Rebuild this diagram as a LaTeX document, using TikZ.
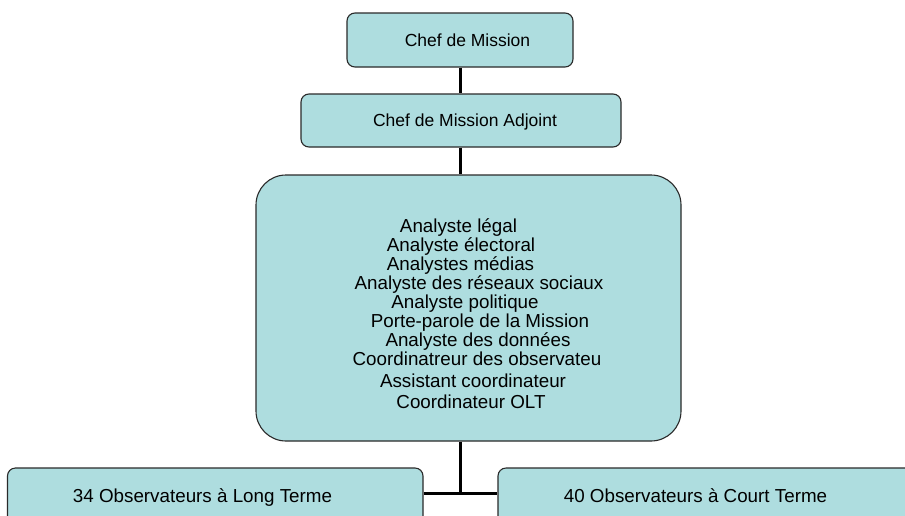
\documentclass[tikz,border=0pt]{standalone}
\usepackage{fontspec}
\setmainfont{Liberation Sans}
\definecolor{boxfill}{HTML}{AEDDDF}
\definecolor{boxline}{HTML}{2A2A2A}
\begin{document}
\begin{tikzpicture}[x=1pt,y=-1pt,
  box/.style={draw=boxline,line width=1.1pt,fill=boxfill,rounded corners=8pt,inner sep=0pt},
  txt/.style={anchor=base,inner sep=0pt,font=\fontsize{17.5}{19}\selectfont},
  bigtxt/.style={anchor=base,inner sep=0pt,font=\fontsize{18.8}{19}\selectfont},
  conn/.style={draw=black,line width=3pt}]
\clip (0,0) rectangle (905,515);
\fill[white] (0,0) rectangle (905,515);
% boxes
\node[box,minimum width=226pt,minimum height=54pt] (chef) at (460,40) {};
\node[box,minimum width=320pt,minimum height=53pt] (adj) at (461,120.5) {};
\node[box,minimum width=425pt,minimum height=266pt,rounded corners=30pt] (mid) at (468.5,308) {};
\node[box,minimum width=415.5pt,minimum height=72pt] (left) at (215.25,504) {};
\node[box,minimum width=432pt,minimum height=72pt] (right) at (714,504) {};
% connectors
\coordinate (j) at (460,493);
\draw[conn] (chef.south -| j) -- (j |- adj.north);
\draw[conn] (adj.south -| j) -- (j |- mid.north);
\draw[conn] (mid.south -| j) -- (j);
\draw[conn] (left.east |- j) -- (right.west |- j);
% texts
\node[txt] (t0) at (467.5,46) {Chef de Mission};
\node[txt] (t1) at (465,126) {Chef de Mission Adjoint};
\node[bigtxt] (m1) at (458.5,232.3) {Analyste légal};
\node[bigtxt] (m2) at (461,251.3) {Analyste électoral};
\node[bigtxt] (m3) at (460.5,270.3) {Analystes médias};
\node[bigtxt] (m4) at (479,289.3) {Analyste des réseaux sociaux};
\node[bigtxt] (m5) at (465,308.3) {Analyste politique};
\node[bigtxt] (m6) at (480,327.3) {Porte-parole de la Mission};
\node[bigtxt] (m7) at (478,346.3) {Analyste des données};
\node[bigtxt] (m8) at (477,365.3) {Coordinatreur des observateu};
\node[bigtxt] (m9) at (473,387) {Assistant coordinateur};
\node[bigtxt] (m10) at (471,408.7) {Coordinateur OLT};
\node[bigtxt] (b1) at (202.5,502) {34 Observateurs à Long Terme};
\node[bigtxt] (b2) at (695.5,502) {40 Observateurs à Court Terme};
\end{tikzpicture}
\end{document}
